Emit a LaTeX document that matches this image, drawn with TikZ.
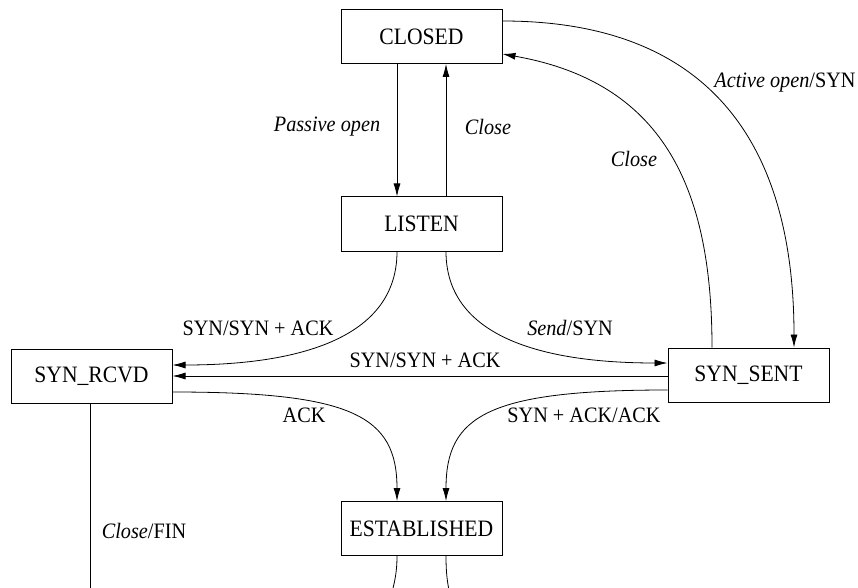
\documentclass[tikz,border=0pt]{standalone}
\usepackage{fontspec}
\setmainfont{Liberation Serif}[FakeStretch=0.92]
\usetikzlibrary{arrows.meta}
\begin{document}
\begin{tikzpicture}[x=1pt,y=1pt,
  state/.style={draw, line width=1pt, minimum width=161pt, minimum height=54pt, inner sep=0pt, font=\fontsize{23.5}{26}\selectfont},
  lbl/.style={font=\fontsize{22}{25}\selectfont, inner sep=0pt},
  conn/.style={line width=0.8pt, -{Latex[length=13pt,width=7pt]}},
  plainline/.style={line width=0.8pt}]
\path[use as bounding box, clip] (0,0) rectangle (858,587);
% states
\node[state] (closed) at (421.5,550.5) {CLOSED};
\node[state] (listen) at (421.5,363) {LISTEN};
\node[state] (rcvd) at (91.5,210.5) {SYN\_RCVD};
\node[state] (sent) at (748.5,212) {SYN\_SENT};
\node[state] (est) at (421.5,58.5) {ESTABLISHED};
% free ends below the picture
\coordinate (finend) at (90,-20);
\coordinate (estL) at (388,-20);
\coordinate (estR) at (453,-20);
% connectors
\draw[conn] ([xshift=-24.5pt]closed.south) -- ([xshift=-24.5pt]listen.north);
\draw[conn] ([xshift=24.5pt]listen.north) -- ([xshift=24.5pt]closed.south);
\draw[conn] ([xshift=-24.5pt]listen.south) to[out=-90,in=0] ([yshift=11.5pt]rcvd.east);
\draw[conn] ([xshift=24.5pt]listen.south) to[out=-90,in=180] ([yshift=12pt]sent.west);
\draw[conn] ([yshift=-1pt]sent.west) -- ([yshift=-1pt]sent.west -| rcvd.east);
\draw[conn] ([yshift=-15.5pt]rcvd.east) .. controls +(180,0) and +(0,85) .. ([xshift=-24.5pt]est.north);
\draw[conn] ([yshift=-15pt]sent.west) .. controls +(-180,0) and +(0,85) .. ([xshift=24.5pt]est.north);
\draw[plainline] ([xshift=-1.5pt]rcvd.south) -- (finend);
\draw[plainline] ([xshift=-24.5pt]est.south) to[out=-90,in=75] (estL);
\draw[plainline] ([xshift=24.5pt]est.south) to[out=-90,in=105] (estR);
\draw[conn] ([xshift=-36.5pt]sent.north) to[out=90,in=-10,looseness=1.15] ([yshift=-17.5pt]closed.east);
\draw[conn] ([yshift=15.5pt]closed.east) to[out=0,in=90,looseness=1.2] ([xshift=45.5pt]sent.north);
% labels
\node[lbl] (lpassive) at (327,460) {\textit{Passive open}};
\node[lbl] (lclose1) at (488,460) {\textit{Close}};
\node[lbl] (lclose2) at (634,428) {\textit{Close}};
\node[lbl] (lactive) at (785,504) {\textit{Active open}/SYN};
\node[lbl] (lsynl) at (258,259) {SYN/SYN + ACK};
\node[lbl] (lsend) at (570,259) {\textit{Send}/SYN};
\node[lbl] (lsynm) at (425,227) {SYN/SYN + ACK};
\node[lbl] (lack) at (304,172) {ACK};
\node[lbl] (lsynack) at (584,172) {SYN + ACK/ACK};
\node[lbl] (lfin) at (144,56) {\textit{Close}/FIN};
\end{tikzpicture}
\end{document}
